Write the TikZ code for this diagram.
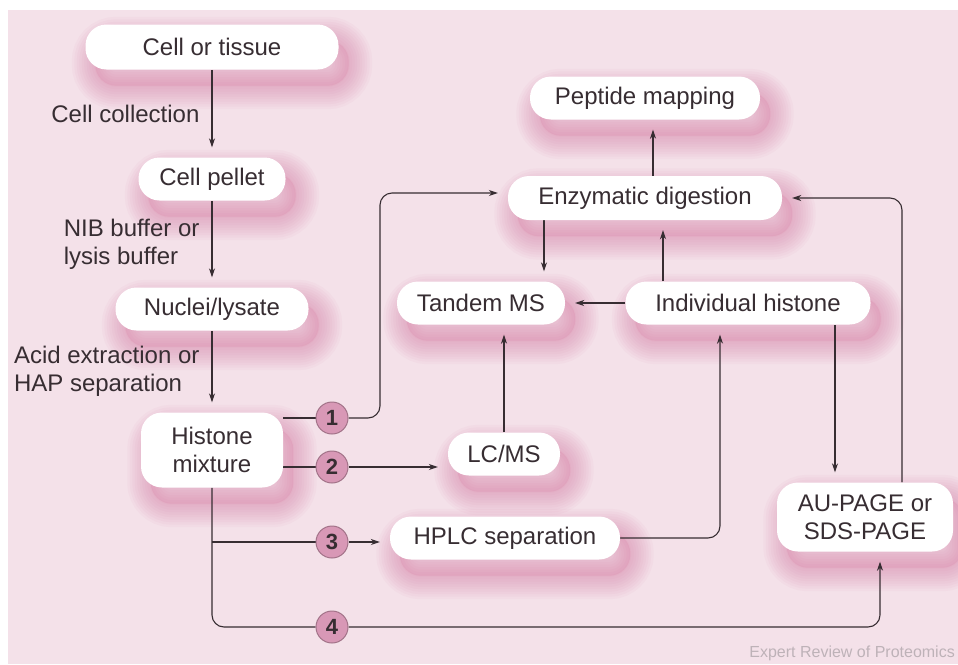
\documentclass[tikz,border=0pt]{standalone}
\usepackage{fontspec}
\setmainfont{Liberation Sans}
\usetikzlibrary{arrows.meta}
\definecolor{bgpink}{RGB}{244,225,233}
\definecolor{shadepink}{RGB}{212,110,155}
\definecolor{numpink}{RGB}{216,152,182}
\definecolor{ink}{RGB}{55,45,50}
\definecolor{credit}{RGB}{190,178,184}
\pgfdeclarelayer{back}
\pgfdeclarelayer{shade}
\pgfdeclarelayer{wires}
\pgfsetlayers{back,shade,wires,main}
\tikzset{
  haze/.style={draw=shadepink, opacity=0.05, rounded corners=21pt},
  hazecore/.style={fill=shadepink, opacity=0.16, rounded corners=21pt},
  box/.style={rectangle, rounded corners=21pt, fill=white, text=ink, inner sep=0pt,
    align=center, minimum height=43pt, font=\fontsize{24}{28}\selectfont},
  num/.style={circle, fill=numpink, draw=numpink!75!black, line width=1pt,
    minimum size=32pt, inner sep=0pt, text=ink, font=\bfseries\fontsize{22}{22}\selectfont},
  lbl/.style={text=ink, align=left, inner sep=12pt, font=\fontsize{24}{28}\selectfont},
  wire/.style={draw=ink, line width=1.1pt, rounded corners=12pt},
  flow/.style={wire, -{Stealth[length=9pt,width=6pt]}, shorten >=10pt},
}

\begin{document}
\begin{tikzpicture}[x=1pt,y=-1pt]
  \useasboundingbox (0,0) rectangle (958,664);
  \begin{pgfonlayer}{back}
    \fill[white] (0,0) rectangle (958,664);
    \fill[bgpink] (8,10) rectangle (958,664);
  \end{pgfonlayer}

  % sample preparation
  \node[box, minimum width=253pt, minimum height=45pt] (cell) at (212,47) {Cell or tissue};
  \node[box, minimum width=147pt] (pellet) at (212,179) {Cell pellet};
  \node[box, minimum width=193pt] (nuclei) at (212,309) {Nuclei/lysate};
  \node[box, minimum width=142pt, minimum height=75pt] (mixture) at (212,450) {Histone\\mixture};

  % analysis
  \node[box, minimum width=230pt] (peptide) at (645,98) {Peptide mapping};
  \node[box, minimum width=274pt, minimum height=44pt] (enzyme) at (645,198) {Enzymatic digestion};
  \node[box, minimum width=168pt] (tandem) at (481,303) {Tandem MS};
  \node[box, minimum width=245pt] (indiv) at (748,303) {Individual histone};
  \node[box, minimum width=112pt] (lcms) at (504,454) {LC/MS};
  \node[box, minimum width=230pt] (hplc) at (505,538) {HPLC separation};
  \node[box, minimum width=176pt, minimum height=69pt] (aupage) at (865,517) {AU-PAGE or\\SDS-PAGE};

  % routes
  \node[num] (c1) at (332,418) {1};
  \node[num] (c2) at (332,467) {2};
  \node[num] (c3) at (332,542) {3};
  \node[num] (c4) at (332,627) {4};

  \node[anchor=east, text=credit, inner sep=0pt, font=\fontsize{16}{16}\selectfont]
    (credit) at (955,653) {Expert Review of Proteomics};

  % soft shadows under the boxes
  \begin{pgfonlayer}{shade}
    \foreach \n in {cell,pellet,nuclei,mixture,peptide,enzyme,tandem,indiv,lcms,hplc,aupage} {
      \fill[hazecore] ([shift={(10pt,-16pt)}]\n.south west)
        rectangle ([shift={(10pt,-16pt)}]\n.north east);
      \foreach \w in {2,7,...,47}
        \draw[haze, line width=\w pt] ([shift={(10pt,-16pt)}]\n.south west)
          rectangle ([shift={(10pt,-16pt)}]\n.north east);
    }
  \end{pgfonlayer}

  \begin{pgfonlayer}{wires}
    \path[flow]
      (cell)   edge node[lbl, left] {Cell collection} (pellet)
      (pellet) edge node[lbl, left] {NIB buffer or\\lysis buffer} (nuclei)
      (nuclei) edge node[lbl, left] {Acid extraction or\\HAP separation} (mixture);

    \draw[wire] (mixture.east |- c1) -- (c1);
    \draw[flow] (c1) -- ++(48,0) |- ([yshift=5pt]enzyme.west);
    \draw[wire] (mixture.east |- c2) -- (c2);
    \draw[flow] (c2) -- (c2 -| lcms.west);
    \draw[wire] (mixture.south) |- (c4);
    \draw[wire] (mixture.south |- c3) -- (c3);
    \draw[flow] (c3) -- (c3 -| hplc.west);
    \draw[flow] (c4) -| ([xshift=15pt]aupage.south);

    \draw[flow] (hplc.east) -| ([xshift=-28pt]indiv.south);
    \draw[flow] (lcms.north) -- (lcms.north |- tandem.south);
    \draw[flow] (indiv.west) -- (tandem.east);
    \draw[flow] ([xshift=-101pt]enzyme.south) -- ([xshift=-101pt]enzyme.south |- tandem.north);
    \draw[flow] ([xshift=-85pt]indiv.north) -- ([xshift=-85pt]indiv.north |- enzyme.south);
    \draw[flow] ([xshift=8pt]enzyme.north) -- ([xshift=8pt]enzyme.north |- peptide.south);
    \draw[flow] ([xshift=87pt]indiv.south) -- ([xshift=87pt]indiv.south |- aupage.north);
    \draw[flow] ([xshift=37pt]aupage.north) |- (enzyme.east);
  \end{pgfonlayer}
\end{tikzpicture}
\end{document}
